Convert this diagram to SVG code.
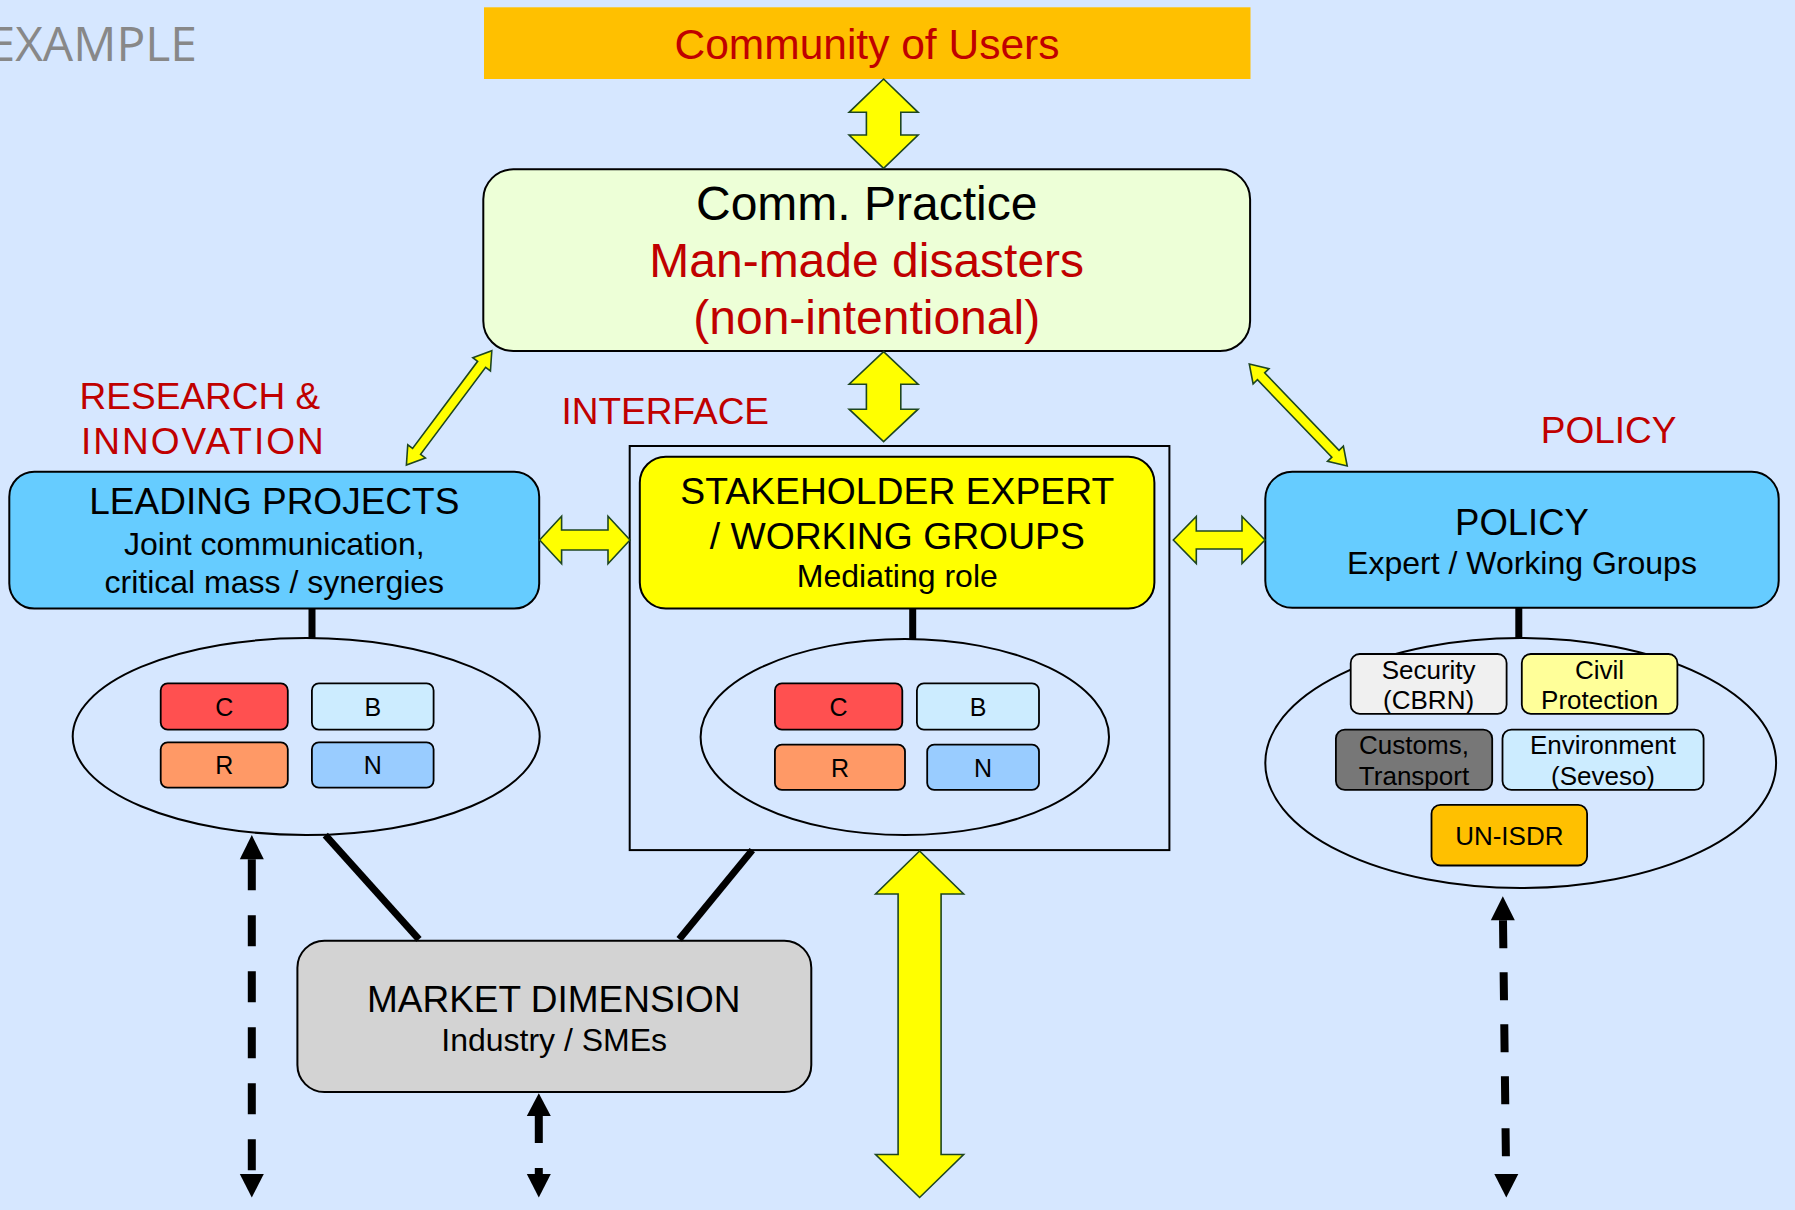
<svg xmlns="http://www.w3.org/2000/svg" width="1795" height="1210" viewBox="0 0 1795 1210">
<style>
text{font-family:"Liberation Sans",Arial,sans-serif;text-anchor:middle;fill:#000}
.red{fill:#C00000}
.lbl{text-anchor:start;fill:#C00000;font-size:37px}
.box{stroke:#000;stroke-width:2}
.sm{stroke:#000;stroke-width:1.8}
.ell{fill:none;stroke:#000;stroke-width:2}
.ya{fill:#FFFF00;stroke:#1E4620;stroke-width:1.6;stroke-linejoin:miter}
.bl{stroke:#000;stroke-width:7;fill:none}
.dash{stroke:#000;stroke-width:8;fill:none}
.head{fill:#000}
.t25{font-size:25px}
.t26{font-size:26px}
.t32{font-size:32px}
.t37{font-size:37px}
.t48{font-size:48px}
</style>
<rect x="0" y="0" width="1795" height="1210" fill="#D6E7FF"/>
<text x="197" y="61" style="font-family:'Open Sans','Noto Sans',sans-serif;text-anchor:end;font-size:48px;fill:#888888">EXAMPLE</text>
<g id="labels">
<text class="lbl" x="79.6" y="408.7">RESEARCH &amp;</text>
<text class="lbl" x="81" y="453.7" letter-spacing="2">INNOVATION</text>
<text class="lbl" x="561.4" y="423.7">INTERFACE</text>
<text class="lbl" x="1540.8" y="442.7">POLICY</text>
</g>
<g id="community">
<rect x="484" y="7.3" width="766.5" height="71.7" fill="#FFC000"/>
<text class="red" x="867" y="59.3" style="font-size:42.5px">Community of Users</text>
</g>
<g id="comm-practice">
<rect class="box" x="483.3" y="169.3" width="766.8" height="181.7" rx="30" fill="#EDFFD7"/>
<text class="t48" x="866.7" y="220">Comm. Practice</text>
<text class="red t48" x="866.7" y="276.7">Man-made disasters</text>
<text class="red t48" x="866.7" y="334">(non-intentional)</text>
</g>
<g id="leading-projects">
<rect class="box" x="9.3" y="471.7" width="529.9" height="136.8" rx="25" fill="#66CCFF"/>
<text class="t37" x="274.3" y="514.3">LEADING PROJECTS</text>
<text class="t32" x="274.3" y="555">Joint communication,</text>
<text class="t32" x="274.3" y="593.2">critical mass / synergies</text>
</g>
<g id="leading-cluster">
<ellipse class="ell" cx="306.2" cy="736.6" rx="233.5" ry="98.5"/>
<rect class="sm" x="160.7" y="683.4" width="127.1" height="46.2" rx="7" fill="#FF5050"/>
<rect class="sm" x="311.9" y="683.4" width="121.7" height="46.2" rx="7" fill="#CCECFF"/>
<rect class="sm" x="160.7" y="742.3" width="127.1" height="45.3" rx="7" fill="#FF9966"/>
<rect class="sm" x="311.9" y="742.3" width="121.7" height="45.3" rx="7" fill="#99CCFF"/>
<text class="t25" x="224.3" y="715.5">C</text>
<text class="t25" x="372.8" y="715.5">B</text>
<text class="t25" x="224.3" y="774">R</text>
<text class="t25" x="372.8" y="774">N</text>
</g>
<g id="interface-frame">
<rect x="629.7" y="446" width="539.7" height="404.1" fill="none" stroke="#000" stroke-width="2"/>
</g>
<g id="stakeholder">
<rect class="box" x="639.8" y="456.7" width="514.6" height="151.8" rx="26" fill="#FFFF00"/>
<text x="897.3" y="504.3" style="font-size:37.3px">STAKEHOLDER EXPERT</text>
<text x="897.3" y="549.3" style="font-size:37.3px">/ WORKING GROUPS</text>
<text class="t32" x="897.3" y="586.7">Mediating role</text>
</g>
<g id="stakeholder-cluster">
<ellipse class="ell" cx="904.8" cy="737" rx="204.2" ry="98"/>
<rect class="sm" x="774.9" y="683.4" width="127.4" height="46.2" rx="7" fill="#FF5050"/>
<rect class="sm" x="916.9" y="683.4" width="122.1" height="46.2" rx="7" fill="#CCECFF"/>
<rect class="sm" x="774.9" y="744.6" width="130.1" height="45.3" rx="7" fill="#FF9966"/>
<rect class="sm" x="927.2" y="744.6" width="111.8" height="45.3" rx="7" fill="#99CCFF"/>
<text class="t25" x="838.6" y="715.5">C</text>
<text class="t25" x="978" y="715.5">B</text>
<text class="t25" x="840" y="776.5">R</text>
<text class="t25" x="983.1" y="776.5">N</text>
</g>
<g id="policy">
<rect class="box" x="1265.3" y="471.7" width="513.4" height="136.1" rx="27" fill="#66CCFF"/>
<text x="1522" y="535.3" style="font-size:36.5px">POLICY</text>
<text class="t32" x="1522" y="573.8">Expert / Working Groups</text>
</g>
<g id="policy-cluster">
<ellipse class="ell" cx="1520.7" cy="763" rx="255.4" ry="125"/>
<rect class="sm" x="1350.7" y="654" width="155.9" height="59.8" rx="9" fill="#F0F0F0"/>
<rect class="sm" x="1521.8" y="654" width="155.6" height="59.8" rx="9" fill="#FFFF99"/>
<rect class="sm" x="1335.9" y="729.6" width="156.3" height="60.3" rx="9" fill="#777777"/>
<rect class="sm" x="1502.5" y="729.6" width="201.1" height="60.3" rx="9" fill="#CCECFF"/>
<rect class="sm" x="1431.5" y="804.8" width="155.6" height="60.7" rx="9" fill="#FFC000"/>
<text class="t26" x="1428.6" y="678.9">Security</text>
<text class="t26" x="1428.6" y="709.2">(CBRN)</text>
<text class="t26" x="1599.6" y="678.9">Civil</text>
<text class="t26" x="1599.6" y="709.2">Protection</text>
<text class="t26" x="1414" y="753.6">Customs,</text>
<text class="t26" x="1414" y="785.3">Transport</text>
<text class="t26" x="1603" y="753.6">Environment</text>
<text class="t26" x="1603" y="785.3">(Seveso)</text>
<text class="t26" x="1509.3" y="845.1">UN-ISDR</text>
</g>
<g id="market">
<rect class="box" x="297.4" y="940.7" width="513.9" height="151.3" rx="27" fill="#D3D3D3"/>
<text class="t37" x="553.7" y="1011.5">MARKET DIMENSION</text>
<text class="t32" x="554.2" y="1050.7">Industry / SMEs</text>
</g>
<g id="connectors">
<polygon class="ya" points="883.6,79 918.1,112.3 900.8,112.3 900.8,135 918.1,135 883.6,168.3 849.1,135 866.4,135 866.4,112.3 849.1,112.3"/>
<polygon class="ya" points="883.6,351.7 918.1,384.2 900.8,384.2 900.8,409.2 918.1,409.2 883.6,441.7 849.1,409.2 866.4,409.2 866.4,384.2 849.1,384.2"/>
<polygon class="ya" points="919.6,851 963.6,894 941.1,894 941.1,1154.5 963.6,1154.5 919.6,1197.5 875.6,1154.5 898.1,1154.5 898.1,894 875.6,894"/>
<polygon class="ya" points="539.6,540 561.6,516.3 561.6,530 608,530 608,516.3 630,540 608,563.7 608,550 561.6,550 561.6,563.7"/>
<polygon class="ya" points="1173.3,540 1196.3,516.5 1196.3,531 1242,531 1242,516.5 1265,540 1242,563.5 1242,549 1196.3,549 1196.3,563.5"/>
<polygon class="ya" transform="translate(449.1 407.85) rotate(-53.24)" points="-71.35,0 -54.35,-11 -54.35,-5 54.35,-5 54.35,-11 71.35,0 54.35,11 54.35,5 -54.35,5 -54.35,11"/>
<polygon class="ya" transform="translate(1298.25 415) rotate(46.17)" points="-70.7,0 -53.7,-11 -53.7,-5 53.7,-5 53.7,-11 70.7,0 53.7,11 53.7,5 -53.7,5 -53.7,11"/>
<line class="bl" x1="312" y1="608.5" x2="312" y2="638"/>
<line class="bl" x1="912.7" y1="608.5" x2="912.7" y2="639"/>
<line class="bl" x1="1518.8" y1="607.8" x2="1518.8" y2="638"/>
<line class="bl" x1="325.3" y1="835.1" x2="419" y2="939.3"/>
<line class="bl" x1="752.3" y1="850.1" x2="679.2" y2="939.3"/>
<polygon class="head" points="251.8,835.1 263.8,859.2 239.8,859.2"/>
<line class="dash" x1="251.8" y1="859.2" x2="251.8" y2="1174" stroke-dasharray="31 25"/>
<polygon class="head" points="239.8,1174 263.8,1174 251.8,1197.5"/>
<polygon class="head" points="538.8,1093.3 550.8,1116 526.8,1116"/>
<line class="dash" x1="538.8" y1="1116" x2="538.8" y2="1174" stroke-dasharray="27 25"/>
<polygon class="head" points="526.8,1174 550.8,1174 538.8,1197.5"/>
<polygon class="head" points="1502.8,896.3 1514.8,920.3 1490.8,920.3"/>
<line class="dash" x1="1503" y1="920.3" x2="1506.1" y2="1174" stroke-dasharray="28 24"/>
<polygon class="head" points="1494.3,1174 1518.3,1174 1506.3,1197.5"/>
</g>
</svg>
